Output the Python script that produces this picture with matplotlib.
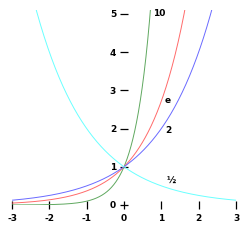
import numpy as np
import matplotlib
matplotlib.use("Agg")
import matplotlib.pyplot as plt

bases = [10, np.e, 2, 0.5]
names = ["10", "e", "2", "\u00bd"]
colors = ["#5fa85f", "#ff6a6a", "#6a6aff", "#6affff"]
label_pos = [(0.78, 5.0), (1.08, 2.72), (1.1, 1.94), (1.15, 0.63)]
xticks = [-3, -2, -1, 0, 1, 2, 3]
yticks = [0, 1, 2, 3, 4, 5]

fig = plt.figure(figsize=(2.5, 2.5), dpi=100)
ax = fig.add_axes([0.048, 0.18, 0.896, 0.78])

x = np.linspace(-3, 3, 600)
for b, c in zip(bases, colors):
    ax.plot(x, b ** x, color=c, lw=0.7)

for (tx, ty), n in zip(label_pos, names):
    ax.text(tx, ty, n, fontsize=6.5, fontweight="bold", ha="left", va="center")

ax.set_xlim(-3, 3)
ax.set_ylim(0, 5.1)
for s in ["left", "bottom"]:
    ax.spines[s].set_position("zero")
    ax.spines[s].set_color("none")
for s in ["right", "top"]:
    ax.spines[s].set_visible(False)

ax.set_xticks(xticks)
ax.set_yticks(yticks)
ax.set_xticklabels([str(v) for v in xticks])
ax.set_yticklabels([str(v) for v in yticks])
ax.tick_params(axis="both", direction="inout", length=5.5, width=0.9, labelsize=6.5)
ax.tick_params(axis="y", pad=3)
ax.tick_params(axis="x", pad=4)
for lab in ax.get_xticklabels() + ax.get_yticklabels():
    lab.set_fontweight("bold")
for t in ax.xaxis.get_major_ticks() + ax.yaxis.get_major_ticks():
    t.tick1line.set_clip_on(False)

fig.savefig("out.png", dpi=100)
